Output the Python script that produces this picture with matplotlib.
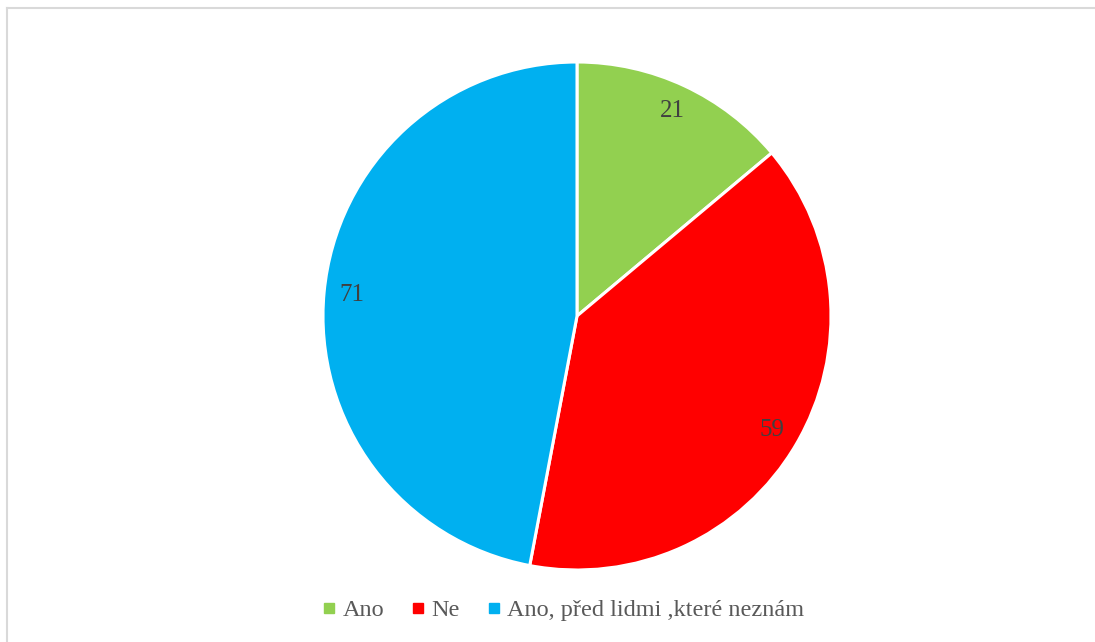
import matplotlib.pyplot as plt
from matplotlib.lines import Line2D

labels = ['Ano', 'Ne', 'Ano, před lidmi ,které neznám']
values = [21, 59, 71]
colors = ['#92d050', '#ff0000', '#00b0f0']

W, H = 1095, 642
fig = plt.figure(figsize=(W / 100, H / 100), dpi=100)
fig.patch.set_facecolor('white')

# thin grey frame on the top and left
fig.add_artist(Line2D([7 / W, 7 / W], [0, 1 - 8 / H], color='#d9d9d9', lw=1.5))
fig.add_artist(Line2D([7 / W, 1], [1 - 8 / H, 1 - 8 / H], color='#d9d9d9', lw=1.5))

cx, cy, r = 577, 316, 254
ax = fig.add_axes([(cx - r) / W, (H - cy - r) / H, 2 * r / W, 2 * r / H])
wedges, texts, autotexts = ax.pie(
    values, colors=colors, startangle=90, counterclock=False,
    autopct=lambda p: '%d' % round(p * sum(values) / 100),
    pctdistance=0.89, radius=1,
    wedgeprops=dict(edgecolor='white', linewidth=2.2, clip_on=False),
    textprops=dict(family='Liberation Serif', fontsize=18, color='#404040'))
ax.set_xlim(-1, 1)
ax.set_ylim(-1, 1)
ax.set_aspect('equal')

handles = [Line2D([], [], marker='s', ls='', color=c, markersize=7) for c in colors]
fig.legend(handles, labels, loc='center', bbox_to_anchor=(562 / W, 1 - 610 / H),
           ncol=3, frameon=False, handletextpad=0.15, columnspacing=1.0,
           handlelength=0.8, prop=dict(family='Liberation Serif', size=17.5),
           labelcolor='#595959')

fig.savefig('out.png', dpi=100)
